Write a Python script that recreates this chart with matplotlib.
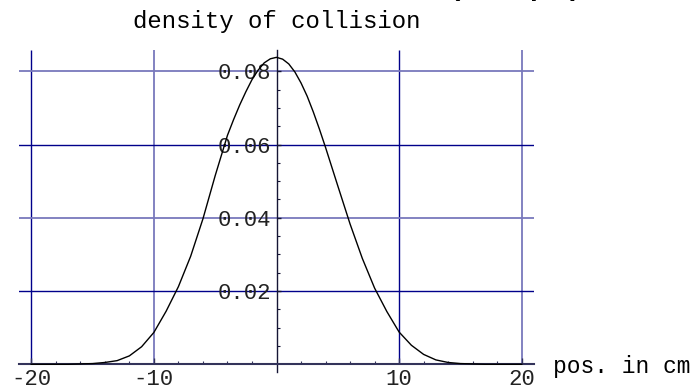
import matplotlib.pyplot as plt

# collision density along the beam (cm), finer steps around the peak
pos = [-20, -19, -18, -17, -16, -15, -14, -13, -12, -11,
       -10, -9, -8, -7, -6, -5, -4, -3.5, -3, -2.5, -2, -1.5, -1, -0.5,
       0,
       0.5, 1, 1.5, 2, 2.5, 3, 3.5, 4, 5, 6, 7, 8, 9, 10,
       11, 12, 13, 14, 15, 16, 17, 18, 19, 20]
density = [0.0, 0.0, 0.0, 0.0, 0.0001, 0.0002, 0.0005, 0.0010, 0.0023, 0.0048,
           0.0087, 0.0145, 0.0212, 0.0295, 0.0397, 0.0515, 0.0625, 0.0668, 0.0708, 0.0744, 0.0777, 0.0803, 0.0823, 0.0834,
           0.0838,
           0.0833, 0.0820, 0.0798, 0.0768, 0.0732, 0.0689, 0.0642, 0.0592, 0.0487, 0.0383, 0.0289, 0.0208, 0.0144, 0.0088,
           0.0052, 0.0027, 0.0012, 0.0005, 0.0002, 0.0001, 0.0, 0.0, 0.0, 0.0]

x_major = [-20, -10, 10, 20]
x_minor = [-18, -16, -14, -12, -8, -6, -4, -2, 2, 4, 6, 8, 12, 14, 16, 18]
y_major = [0.02, 0.04, 0.06, 0.08]
y_labels = ["0.02", "0.04", "0.06", "0.08"]
y_minor = [0.005, 0.01, 0.015, 0.025, 0.03, 0.035, 0.045, 0.05, 0.055, 0.065, 0.07, 0.075]

mono = "Liberation Mono"
dark = "#00008a"
light = "#7878bc"

fig = plt.figure(figsize=(6.97, 3.9), dpi=100)
ax = fig.add_axes([19 / 697, 18 / 390, 515 / 697, 322 / 390])
ax.set_xlim(-21, 21)
ax.set_ylim(-0.0021, 0.0858)

# grid lines, alternating weight like the original renderer
vstyle = [(dark, 1.0), (light, 1.3), (dark, 1.0), (light, 1.3)]
for xv, (c, lw) in zip(x_major, vstyle):
    ax.vlines(xv, 0, 0.0858, color=c, lw=lw, zorder=1)
hstyle = [(dark, 1.0), (light, 1.3), (dark, 1.0), (light, 1.3)]
for yv, (c, lw) in zip(y_major, hstyle):
    ax.axhline(yv, color=c, lw=lw, zorder=1)

ax.plot(pos, density, color="black", lw=1.0, zorder=3)

# axes crossing at the origin
for s in ["top", "right"]:
    ax.spines[s].set_visible(False)
ax.spines["bottom"].set_position(("data", 0))
ax.spines["left"].set_position(("data", 0))
ax.spines["bottom"].set_color("#33335a")
ax.spines["bottom"].set_linewidth(1.5)
ax.spines["left"].set_color("#151535")
ax.spines["left"].set_linewidth(1.0)
ax.spines["bottom"].set_zorder(2)
ax.spines["left"].set_zorder(2)

ax.set_xticks(x_major)
ax.set_xticklabels([str(v) for v in x_major])
ax.set_xticks(x_minor, minor=True)
ax.set_yticks(y_major)
ax.set_yticklabels(y_labels)
ax.set_yticks(y_minor, minor=True)

ax.tick_params(axis="x", which="major", direction="in", length=4, width=1,
               color="#33335a", pad=3.5, labelsize=16)
ax.tick_params(axis="x", which="minor", direction="in", length=2.5, width=0.8,
               color="#33335a")
ax.tick_params(axis="y", which="major", direction="in", length=3, width=1,
               color="#151535", pad=4, labelsize=16)
ax.tick_params(axis="y", which="minor", direction="in", length=2.2, width=0.8,
               color="#151535")
for lab in ax.get_xticklabels() + ax.get_yticklabels():
    lab.set_family(mono)
    lab.set_color("#222222")

fig.text(133 / 697, 1 - 28 / 390, "density of collision", family=mono,
         fontsize=17.3, va="baseline", ha="left")
fig.text(553 / 697, 1 - 367 / 390, "pos. in cm", family=mono,
         fontsize=16.5, va="center", ha="left")
# plot label, mostly above the top edge
fig.text(515 / 697, 1 + 5 / 390, "(example)", family="Liberation Sans",
         weight="bold", fontsize=20, va="baseline", ha="center")

fig.savefig("out.png", dpi=100)
